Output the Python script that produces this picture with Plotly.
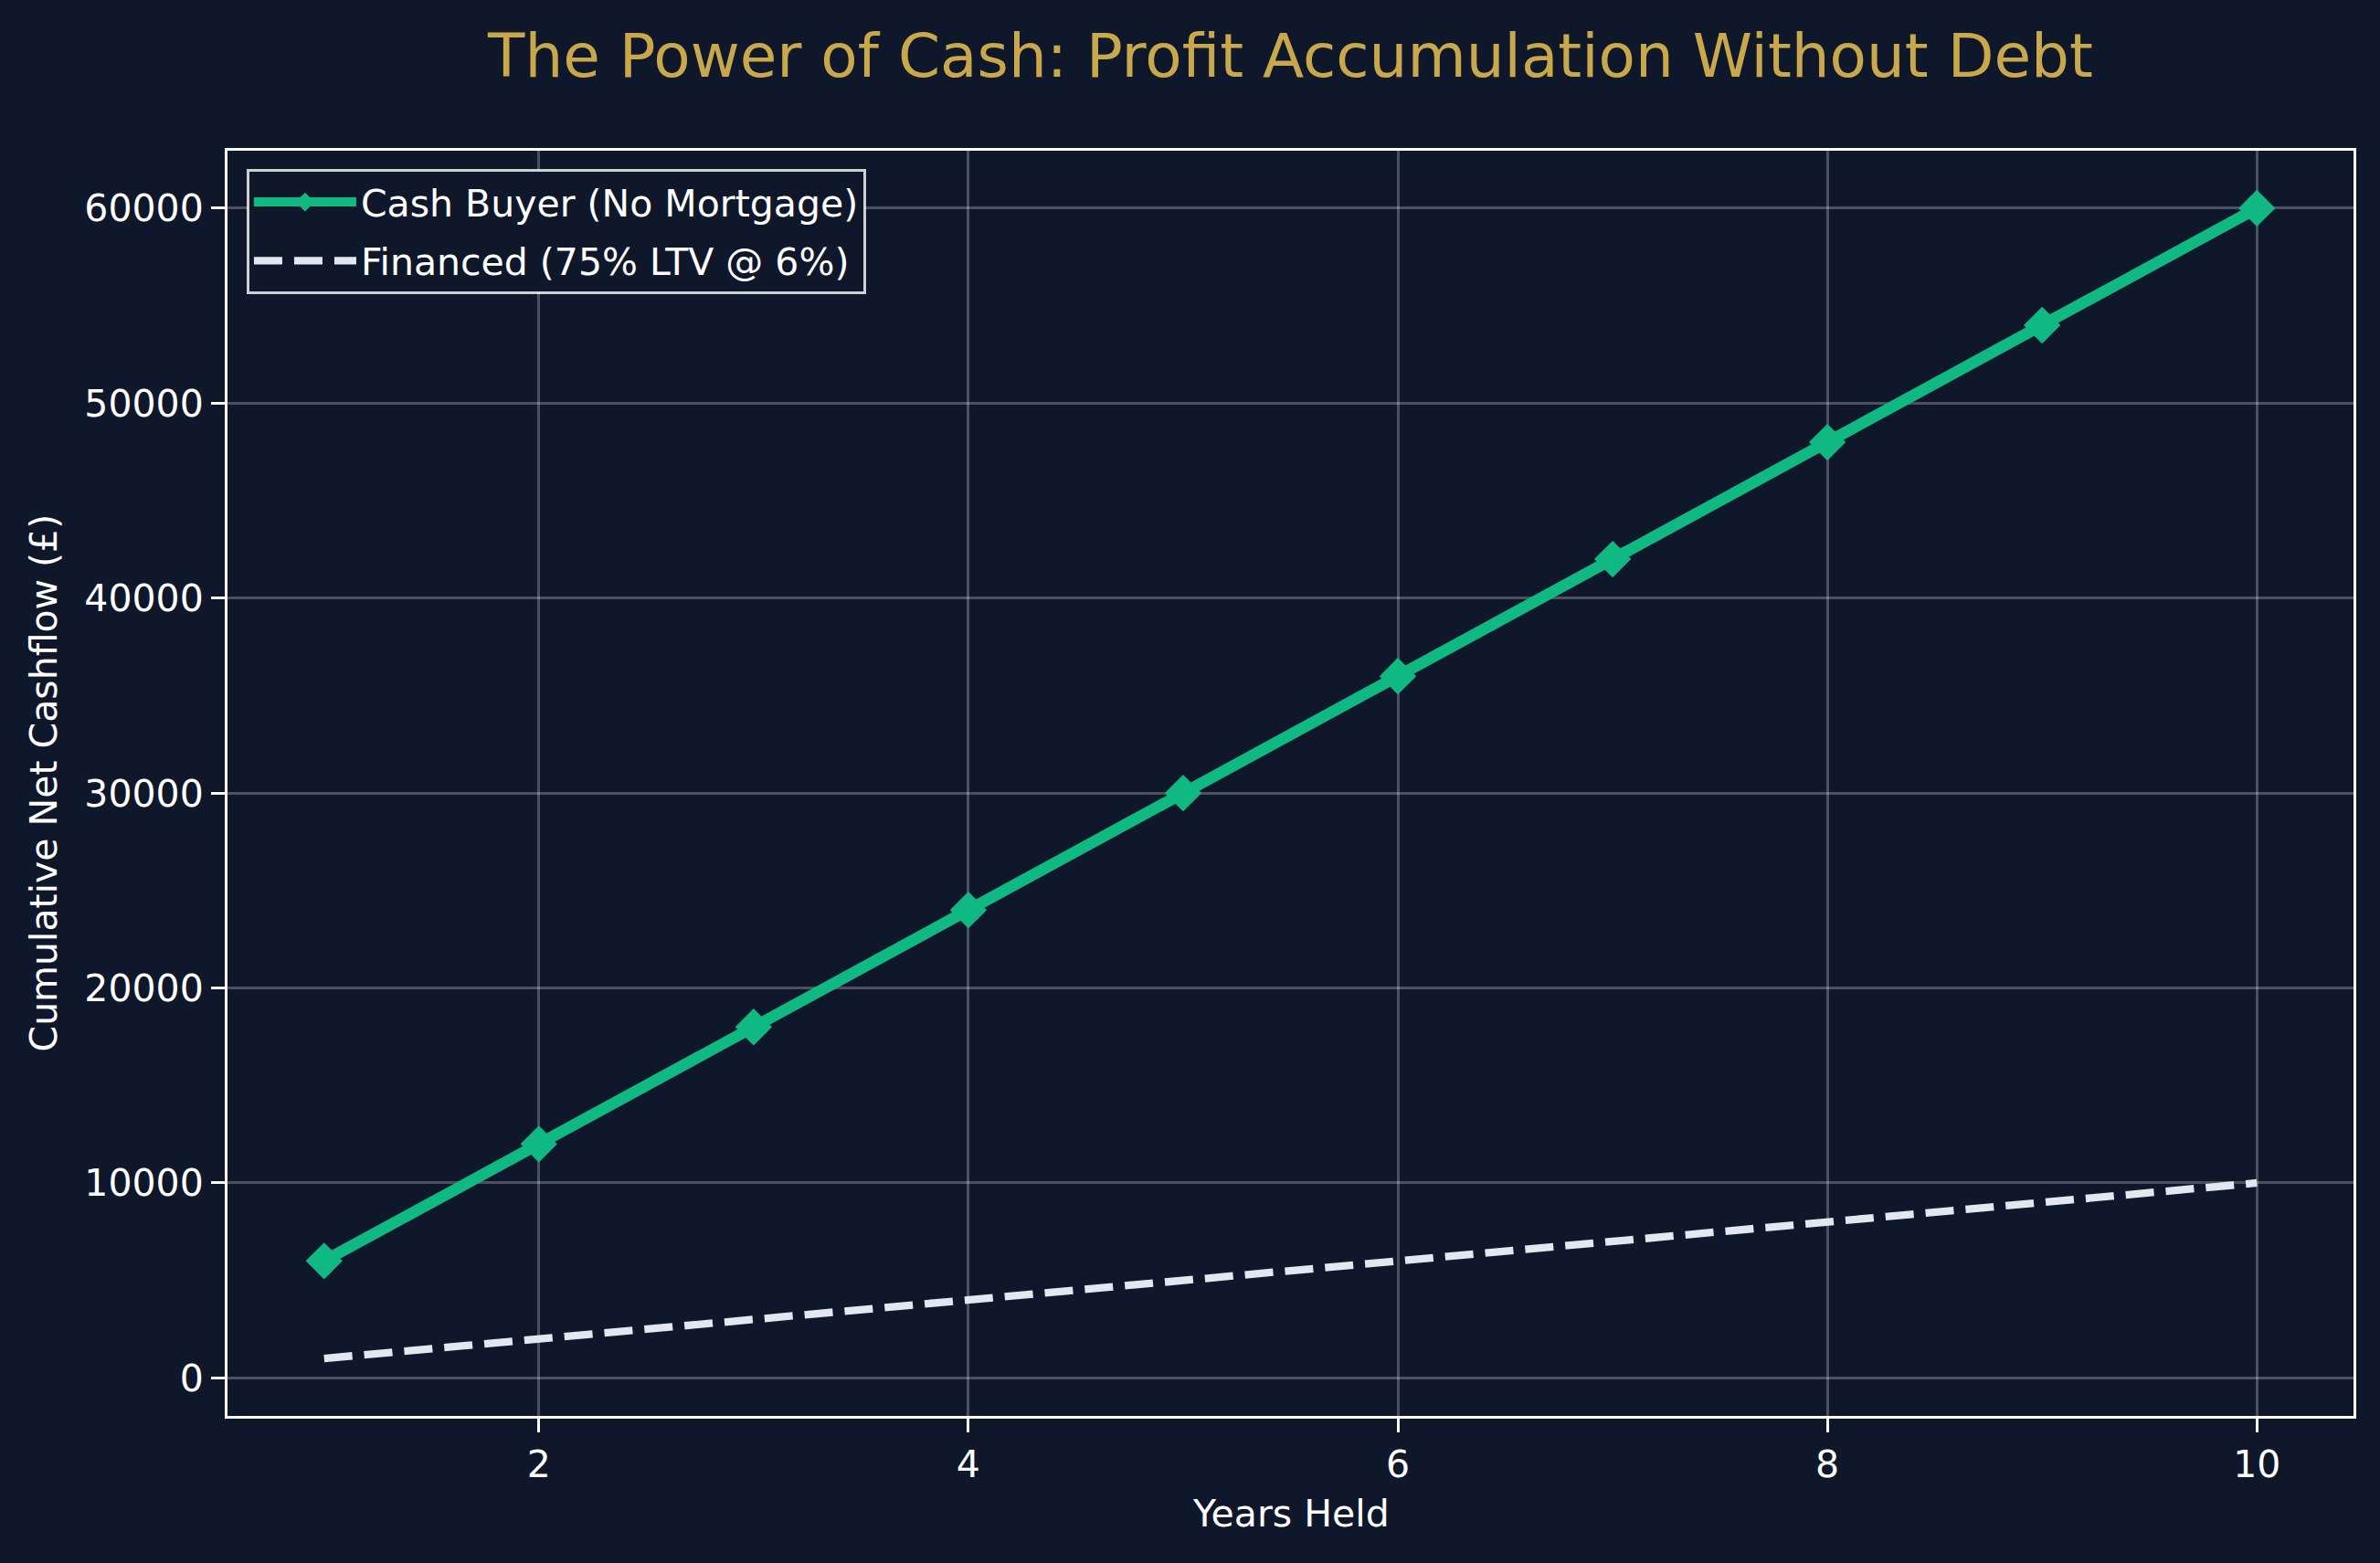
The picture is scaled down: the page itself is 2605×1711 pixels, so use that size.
import plotly.graph_objects as go

years = [1, 2, 3, 4, 5, 6, 7, 8, 9, 10]
cash_buyer = [6000, 12000, 18000, 24000, 30000, 36000, 42000, 48000, 54000, 60000]
financed = [1000, 2000, 3000, 4000, 5000, 6000, 7000, 8000, 9000, 10000]

BG = "#0f172a"
GREEN = "#10b981"
DASH = "#e2e8f0"
GOLD = "#c9a84c"
FONT = "DejaVu Sans"

fig = go.Figure()
fig.add_trace(go.Scatter(
    x=years, y=cash_buyer, mode="lines+markers", name="Cash Buyer (No Mortgage)",
    line=dict(color=GREEN, width=12.5),
    marker=dict(symbol="diamond", size=31, color=GREEN),
    legendgroup="a",
))
fig.add_trace(go.Scatter(
    x=years, y=financed, mode="lines", name="Financed (75% LTV @ 6%)",
    line=dict(color=DASH, width=8.3, dash="31px,13px"),
    legendgroup="b",
))

axis_common = dict(
    showline=True, linecolor="white", linewidth=3, mirror=True,
    ticks="outside", ticklen=15, tickwidth=3, tickcolor="white",
    tickfont=dict(family=FONT, size=41, color="white"),
    showgrid=True, gridcolor="rgba(255,255,255,0.25)", gridwidth=3,
    zeroline=False,
)

fig.update_layout(
    width=2605, height=1711,
    margin=dict(l=249, r=29, t=165, b=161),
    paper_bgcolor=BG, plot_bgcolor=BG,
    font=dict(family=FONT, color="white"),
    title=dict(
        text="The Power of Cash: Profit Accumulation Without Debt",
        font=dict(family=FONT, size=66, color=GOLD),
        x=0.5, xref="paper", xanchor="center",
        y=1 - 61 / 1711, yref="container", yanchor="middle",
    ),
    xaxis=dict(range=[0.55, 10.45], tick0=0, dtick=2, **axis_common),
    yaxis=dict(range=[-1950, 62950], tick0=0, dtick=10000, tickformat="d", **axis_common),
    legend=dict(
        x=0.009, y=0.9856, xanchor="left", yanchor="top",
        bgcolor=BG, bordercolor="rgba(255,255,255,0.8)", borderwidth=3,
        font=dict(family=FONT, size=41, color="white"),
        itemwidth=112, tracegroupgap=8,
    ),
    showlegend=True,
    annotations=[
        dict(text="Years Held", xref="paper", yref="paper", x=0.5, y=(1550 - 1657) / 1385,
             xanchor="center", yanchor="middle", showarrow=False,
             font=dict(family=FONT, size=41, color="white")),
        dict(text="Cumulative Net Cashflow (£)", xref="paper", yref="paper",
             x=(47 - 249) / 2327, y=0.5, xanchor="center", yanchor="middle",
             textangle=-90, showarrow=False,
             font=dict(family=FONT, size=41, color="white")),
    ],
)

fig.write_html("out.html")
